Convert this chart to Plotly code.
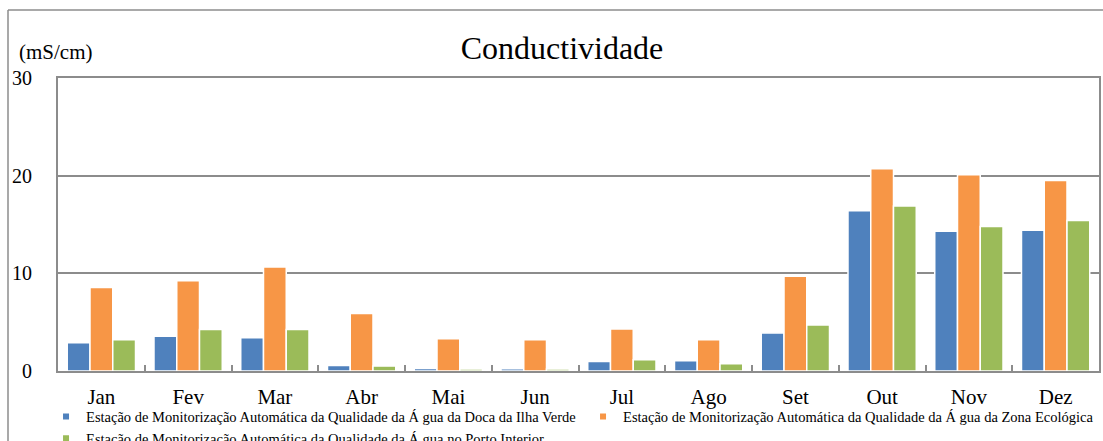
import plotly.graph_objects as go

months = ["Jan", "Fev", "Mar", "Abr", "Mai", "Jun", "Jul", "Ago", "Set", "Out", "Nov", "Dez"]
doca_ilha_verde = [2.9, 3.55, 3.4, 0.57, 0.26, 0.22, 0.98, 1.05, 3.9, 16.4, 14.3, 14.4]
zona_ecologica = [8.55, 9.25, 10.65, 5.9, 3.3, 3.2, 4.3, 3.2, 9.7, 20.7, 20.1, 19.5]
porto_interior = [3.2, 4.25, 4.25, 0.5, 0.2, 0.2, 1.15, 0.75, 4.7, 16.9, 14.8, 15.4]

series_names = [
    "Estação de Monitorização Automática da Qualidade da Á gua da Doca da Ilha Verde",
    "Estação de Monitorização Automática da Qualidade da Á gua da Zona Ecológica",
    "Estação de Monitorização Automática da Qualidade da Á gua no Porto Interior",
]
series_values = [doca_ilha_verde, zona_ecologica, porto_interior]
colors = ["#4F81BD", "#F79646", "#9BBB59"]

FONT = "Liberation Serif"
GRAY = "#8C8C8C"

fig = go.Figure()
for name, vals, col in zip(series_names, series_values, colors):
    fig.add_trace(go.Bar(
        x=months, y=vals, name=name, showlegend=False,
        marker=dict(color=col, line=dict(color="white", width=1.5)),
    ))
# legend entries with small square markers
for name, col in zip(series_names, colors):
    fig.add_trace(go.Scatter(
        x=[None], y=[None], mode="markers", name=name,
        marker=dict(symbol="square", size=6, color=col),
    ))

fig.update_layout(
    width=1103, height=441,
    margin=dict(l=58, r=4, t=78, b=70, autoexpand=False),
    paper_bgcolor="white", plot_bgcolor="white",
    font=dict(family=FONT, color="black"),
    barmode="group", bargap=0.213, bargroupgap=0.0,
    title=dict(text="Conductividade", x=(562 - 58) / 1041, xref="paper", xanchor="center",
               y=1 - 48 / 441, yref="container", yanchor="middle",
               font=dict(size=32, family=FONT)),
    showlegend=True,
    legend=dict(orientation="h", x=-0.0115, xanchor="left", y=-0.101, yanchor="top",
                font=dict(size=14.5, family=FONT), entrywidth=492, entrywidthmode="pixels",
                bgcolor="rgba(0,0,0,0)", tracegroupgap=0, itemsizing="trace"),
    xaxis=dict(showline=True, linecolor=GRAY, linewidth=2, mirror=True,
               ticks="inside", tickson="boundaries", ticklen=6, tickcolor=GRAY, tickwidth=2,
               tickfont=dict(size=21, family=FONT), ticklabelstandoff=6,
               showgrid=False),
    yaxis=dict(range=[0, 30], tickvals=[0, 10, 20, 30], showline=True, linecolor=GRAY,
               linewidth=2, mirror=True, showgrid=True, gridcolor=GRAY, gridwidth=1.5,
               ticks="", tickfont=dict(size=20, family=FONT), ticklabelstandoff=20,
               zeroline=False),
    annotations=[dict(text="(mS/cm)", xref="paper", yref="paper",
                      x=(17 - 58) / 1041, y=1 + (78 - 52) / 293,
                      xanchor="left", yanchor="middle", showarrow=False,
                      font=dict(size=21, family=FONT))],
    shapes=[
        dict(type="line", xref="paper", yref="paper",
             x0=(8 - 58) / 1041, x1=(8 - 58) / 1041, y0=1 + (78 - 10) / 293, y1=-0.5,
             line=dict(color=GRAY, width=1.5)),
        dict(type="line", xref="paper", yref="paper",
             x0=(8 - 58) / 1041, x1=1.05, y0=1 + (78 - 10) / 293, y1=1 + (78 - 10) / 293,
             line=dict(color=GRAY, width=1.5)),
    ],
)

fig.write_html("out.html", config={"displayModeBar": False},
               post_script="document.body.style.margin='0';document.body.style.overflow='hidden';")
